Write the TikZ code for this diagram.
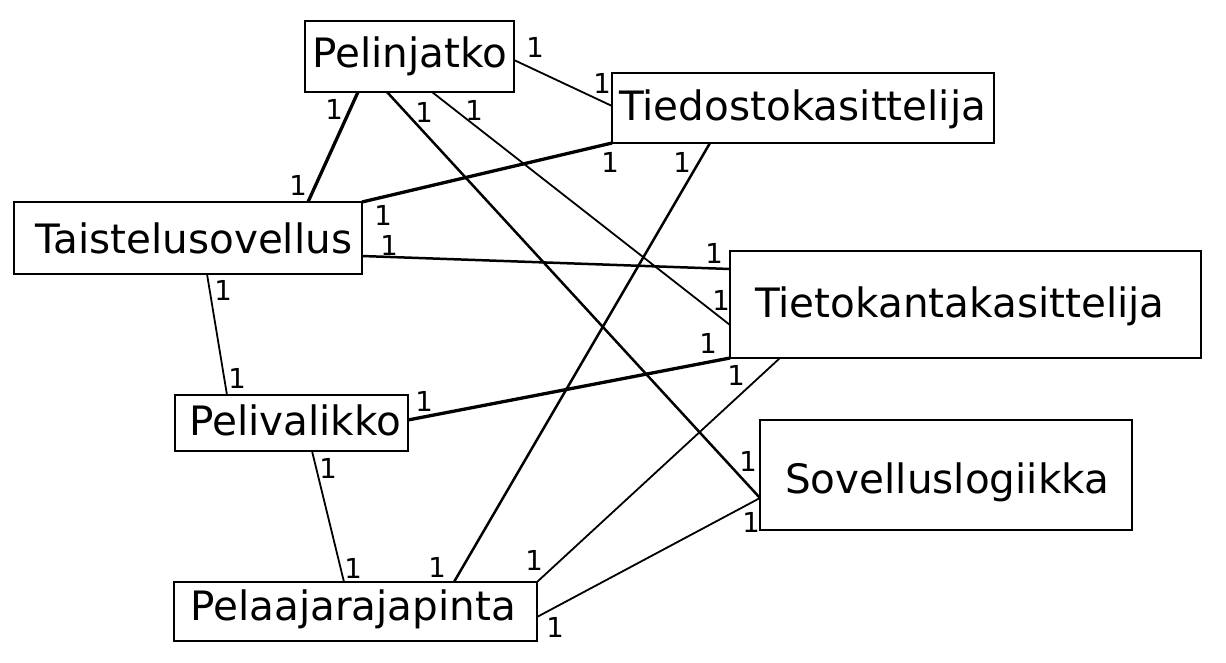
\documentclass[tikz,border=0pt]{standalone}
\usepackage{fontspec}
\setmainfont{DejaVu Sans}
\usetikzlibrary{calc}
\begin{document}
\begin{tikzpicture}[x=1pt,y=-1pt,
  box/.style={draw=black,line width=2.7pt,rectangle,inner sep=0pt,outer sep=0pt,anchor=north west},
  txt/.style={anchor=base west,inner sep=0pt,font=\fontsize{40.5}{40.5}\selectfont},
  one/.style={inner sep=0pt,font=\fontsize{27.5}{27.5}\selectfont},
  thin/.style={line width=1.8pt},
  mid/.style={line width=2.5pt},
  thick/.style={line width=3.3pt}]
\useasboundingbox (0,0) rectangle (1226,663);
% boxes
\node[box,minimum width=209pt,minimum height=71pt] (pj) at (305,21) {};
\node[box,minimum width=382pt,minimum height=70pt] (td) at (612,73) {};
\node[box,minimum width=348pt,minimum height=72pt] (ts) at (14,202) {};
\node[box,minimum width=471pt,minimum height=107pt] (tk) at (730,251) {};
\node[box,minimum width=372pt,minimum height=110pt] (sl) at (760,420) {};
\node[box,minimum width=233pt,minimum height=56pt] (pv) at (175,395) {};
\node[box,minimum width=363pt,minimum height=59pt] (pr) at (174,582) {};
% texts
\node[txt] (pjt) at (312,68) {Pelinjatko};
\node[txt] (tdt) at (619,121) {Tiedostokasittelija};
\node[txt] (tst) at (35,253) {Taistelusovellus};
\node[txt] (tkt) at (755,317) {Tietokantakasittelija};
\node[txt] (slt) at (785,493) {Sovelluslogiikka};
\node[txt] (pvt) at (189,435) {Pelivalikko};
\node[txt] (prt) at (190,620) {Pelaajarajapinta};
% connectors
\draw[thin] ($(pj.north east)+(0,39)$) -- ($(td.north west)+(0,33)$);
\draw[thick] ($(pj.south west)+(53,0)$) -- ($(ts.north west)+(294,0)$);
\draw[mid] ($(pj.south west)+(82,0)$) -- ($(sl.north west)+(0,78)$);
\draw[thin] ($(pj.south west)+(127,0)$) -- ($(tk.north west)+(0,74)$);
\draw[thick] (ts.north east) -- (td.south west);
\draw[mid] ($(ts.north east)+(0,54)$) -- ($(tk.north west)+(0,18)$);
\draw[thin] ($(ts.south west)+(193,0)$) -- ($(pv.north west)+(52,0)$);
\draw[thick] ($(pv.north east)+(0,25)$) -- (tk.south west);
\draw[thin] ($(pv.south west)+(137,0)$) -- ($(pr.north west)+(170,0)$);
\draw[mid] ($(pr.north west)+(280,0)$) -- ($(td.south west)+(98,0)$);
\draw[thin] (pr.north east) -- ($(tk.south west)+(50,0)$);
\draw[thin] ($(pr.north east)+(0,35)$) -- ($(sl.north west)+(0,78)$);
% multiplicities
\node[one] (l1) at (535,47) {1};
\node[one] (l2) at (602,83) {1};
\node[one] (l3) at (334,109) {1};
\node[one] (l4) at (424,112) {1};
\node[one] (l5) at (474,110) {1};
\node[one] (l6) at (298,185) {1};
\node[one] (l7) at (610,162) {1};
\node[one] (l8) at (682,162) {1};
\node[one] (l9) at (383,215) {1};
\node[one] (l10) at (389,245) {1};
\node[one] (l11) at (223,290) {1};
\node[one] (l12) at (237,378) {1};
\node[one] (l13) at (714,253) {1};
\node[one] (l14) at (721,300) {1};
\node[one] (l15) at (708,343) {1};
\node[one] (l16) at (736,375) {1};
\node[one] (l17) at (748,461) {1};
\node[one] (l18) at (751,522) {1};
\node[one] (l19) at (424,401) {1};
\node[one] (l20) at (328,468) {1};
\node[one] (l21) at (353,568) {1};
\node[one] (l22) at (437,567) {1};
\node[one] (l23) at (534,560) {1};
\node[one] (l24) at (555,627) {1};
\end{tikzpicture}
\end{document}
